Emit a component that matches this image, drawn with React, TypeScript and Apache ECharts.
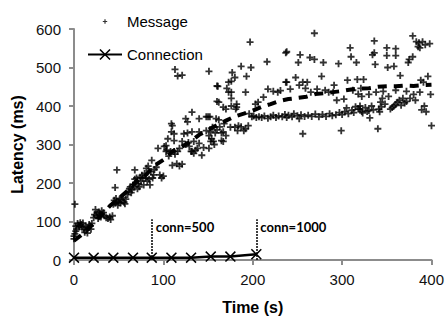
import React, { useEffect, useRef } from "react";
import * as echarts from "echarts";

// Message latency samples [time (s), latency (ms)]
const messagePoints: [number, number][] = [
  [0, 55], [0, 62], [1, 145], [1, 68], [2, 75], [2, 88], [3, 80], [4, 95], [5, 90], [6, 86],
  [7, 97], [8, 92], [9, 85], [10, 96], [11, 80], [12, 72], [13, 88], [14, 78], [15, 70], [16, 84],
  [17, 92], [18, 88], [19, 80], [20, 95], [22, 110], [23, 118], [24, 131], [25, 115], [26, 122], [27, 108],
  [28, 125], [29, 118], [30, 112], [31, 128], [33, 123], [34, 115], [36, 110], [38, 108], [40, 112], [41, 105],
  [43, 115], [44, 145], [45, 155], [46, 148], [46, 188], [47, 160], [48, 152], [48, 234], [49, 142], [50, 150],
  [51, 158], [52, 148], [53, 155], [55, 162], [56, 150], [57, 146], [58, 158], [60, 170], [61, 178], [62, 185],
  [63, 190], [64, 175], [65, 182], [66, 195], [67, 190], [68, 234], [68, 210], [69, 200], [70, 213], [71, 185],
  [72, 198], [73, 190], [74, 215], [75, 205], [76, 220], [77, 213], [78, 195], [79, 225], [80, 213], [81, 238],
  [82, 205], [83, 244], [84, 210], [85, 195], [86, 230], [87, 259], [88, 213], [89, 221], [90, 235], [92, 241],
  [94, 290], [96, 221], [98, 213], [100, 218], [101, 295], [103, 297], [103, 282], [104, 285], [105, 315], [106, 270],
  [108, 282], [109, 354], [109, 333], [110, 349], [110, 246], [112, 328], [112, 282], [112, 310], [113, 495], [113, 275],
  [115, 250], [116, 478], [116, 282], [118, 244], [118, 290], [121, 480], [121, 249], [121, 308], [123, 328], [125, 367],
  [125, 300], [127, 359], [127, 330], [128, 305], [129, 295], [131, 282], [132, 384], [132, 333], [132, 282], [134, 308],
  [134, 277], [136, 285], [138, 290], [140, 303], [140, 367], [140, 333], [143, 272], [145, 292], [148, 372], [148, 336],
  [150, 372], [151, 490], [151, 323], [151, 290], [152, 372], [153, 333], [153, 308], [154, 315], [155, 345], [156, 308],
  [157, 300], [158, 330], [159, 367], [160, 452], [160, 412], [160, 338], [161, 451], [162, 364], [162, 410], [163, 346],
  [165, 310], [165, 330], [167, 308], [167, 397], [167, 333], [168, 354], [170, 323], [170, 392], [171, 446], [173, 436],
  [173, 462], [175, 345], [176, 464], [176, 436], [176, 420], [176, 400], [177, 487], [180, 474], [180, 345], [181, 392],
  [182, 405], [182, 397], [183, 336], [184, 349], [187, 346], [187, 503], [190, 336], [192, 341], [192, 436], [193, 477],
  [195, 349], [196, 380], [197, 566], [198, 500], [199, 372], [201, 374], [203, 405], [204, 370], [206, 410], [207, 372],
  [210, 370], [212, 423], [213, 374], [216, 515], [217, 444], [217, 368], [220, 372], [223, 438], [223, 376], [226, 370],
  [228, 436], [229, 374], [231, 440], [233, 372], [236, 378], [237, 538], [237, 462], [238, 541], [238, 462], [238, 370],
  [240, 376], [242, 444], [244, 372], [246, 380], [248, 474], [250, 375], [251, 513], [252, 454], [252, 367], [253, 533],
  [254, 377], [256, 462], [256, 328], [258, 373], [259, 446], [261, 462], [262, 376], [264, 526], [265, 436], [266, 373],
  [269, 521], [269, 589], [270, 379], [272, 444], [274, 372], [277, 477], [278, 378], [279, 513], [281, 441], [282, 373],
  [285, 436], [286, 380], [289, 375], [290, 436], [291, 454], [293, 377], [294, 415], [296, 510], [297, 383], [299, 336],
  [300, 378], [302, 418], [303, 385], [305, 395], [306, 467], [307, 380], [309, 551], [310, 528], [311, 389], [312, 441],
  [313, 383], [315, 398], [316, 513], [317, 469], [318, 431], [318, 392], [320, 400], [320, 392], [321, 446], [322, 386],
  [322, 425], [323, 382], [324, 469], [326, 396], [328, 386], [330, 388], [330, 430], [331, 369], [333, 400], [334, 533],
  [335, 390], [336, 538], [336, 569], [337, 508], [338, 436], [339, 608], [340, 341], [341, 392], [342, 385], [343, 410],
  [344, 398], [345, 420], [346, 438], [348, 405], [349, 605], [350, 551], [350, 531], [351, 500], [352, 425], [354, 392],
  [356, 396], [358, 503], [358, 400], [360, 549], [360, 531], [360, 404], [360, 441], [362, 410], [364, 415], [365, 479],
  [366, 402], [368, 420], [370, 408], [372, 412], [372, 438], [374, 513], [375, 521], [376, 420], [379, 582], [379, 528],
  [380, 430], [382, 415], [383, 567], [385, 554], [386, 564], [387, 551], [387, 436], [388, 467], [389, 390], [390, 567],
  [391, 462], [392, 400], [393, 559], [394, 385], [396, 477], [398, 562], [399, 608], [399, 430], [400, 349],
];

// Dashed trend line
const trendTime = [0, 10, 20, 30, 40, 50, 60, 70, 80, 90, 100, 110, 120, 130, 140, 150, 160, 170, 180, 190, 200,
  210, 220, 230, 240, 250, 260, 270, 280, 290, 300, 310, 320, 330, 340, 350, 360, 370, 380, 390, 400];
const trendLatency = [50, 68, 90, 115, 140, 160, 180, 205, 220, 245, 260, 282, 293, 307, 325, 338, 350, 362, 373, 380, 388,
  398, 405, 413, 418, 421, 424, 431, 433, 436, 439, 443, 445, 446, 450, 451, 451, 453, 452, 454, 455];

// Connection setup latency
const connTime = [0, 22, 44, 66, 87, 109, 131, 153, 175, 204];
const connLatency = [6, 6, 6, 6, 6, 6, 6, 9, 9, 15];

// Annotations
const annotTime = [87, 204];
const annotLabels = ["conn=500", "conn=1000"];
const annotTop = 106;
const annotLabelY = 87;

const xTicks = { min: 0, max: 400, interval: 100 };
const yTicks = { min: 0, max: 600, interval: 100 };

const PLUS = "path://M37,0H63V37H100V63H63V100H37V63H0V37H37Z";
const CROSS = "path://M0,10L10,0L50,40L90,0L100,10L60,50L100,90L90,100L50,60L10,100L0,90L40,50Z";
// small plus centred in a larger invisible box, for the legend
const PLUS_SMALL =
  "path://M0,0h0.2v0.2h-0.2Z M140,140h-0.2v-0.2h0.2Z M64,48H76V64H92V76H76V92H64V76H48V64H64Z";

export default function App() {
  const ref = useRef<HTMLDivElement>(null);
  useEffect(() => {
    if (!ref.current) return;
    const chart = echarts.init(ref.current, null, { renderer: "svg" });
    const axisColor = "#8c8c8c";
    const font = "'Liberation Sans', Arial, sans-serif";
    chart.setOption({
      animation: false,
      grid: { left: 74, right: 10, top: 29, bottom: 57 },
      legend: {
        orient: "vertical",
        left: 82,
        top: 9,
        itemWidth: 34,
        itemHeight: 14,
        itemGap: 18,
        textStyle: { fontSize: 15, fontFamily: font, color: "#000" },
        data: [{ name: "Message", icon: PLUS_SMALL }, "Connection"],
      },
      xAxis: {
        type: "value",
        ...xTicks,
        name: "Time (s)",
        nameLocation: "middle",
        nameGap: 39,
        nameTextStyle: { fontSize: 16, fontWeight: "bold", fontFamily: font, color: "#000" },
        axisLine: { lineStyle: { color: axisColor, width: 2 } },
        axisTick: { show: true, length: 5, lineStyle: { color: axisColor, width: 2 } },
        axisLabel: { fontSize: 15, fontFamily: font, color: "#111", margin: 12 },
        splitLine: { show: false },
      },
      yAxis: {
        type: "value",
        ...yTicks,
        name: "Latency (ms)",
        nameLocation: "middle",
        nameGap: 47,
        nameTextStyle: { fontSize: 16, fontWeight: "bold", fontFamily: font, color: "#000" },
        axisLine: { show: true, lineStyle: { color: axisColor, width: 2 } },
        axisTick: { show: true, length: 5, lineStyle: { color: axisColor, width: 2 } },
        axisLabel: { fontSize: 15, fontFamily: font, color: "#111", margin: 13 },
        splitLine: { show: false },
      },
      series: [
        {
          name: "Message",
          type: "scatter",
          symbol: PLUS,
          symbolSize: 7,
          itemStyle: { color: "#000" },
          data: messagePoints,
          z: 3,
        },
        {
          name: "Trend",
          type: "line",
          showSymbol: false,
          symbol: "none",
          lineStyle: { color: "#000", width: 4, type: [9, 7] },
          data: trendTime.map((t, i) => [t, trendLatency[i]]),
          z: 4,
        },
        {
          name: "Connection",
          type: "line",
          symbol: CROSS,
          symbolSize: 11,
          itemStyle: { color: "#000" },
          lineStyle: { color: "#000", width: 2.5 },
          data: connTime.map((t, i) => [t, connLatency[i]]),
          z: 5,
          markLine: {
            silent: true,
            symbol: ["none", "none"],
            label: { show: false },
            lineStyle: { color: "#000", width: 1.5, type: [2, 1] },
            data: annotTime.map((t) => [{ coord: [t, 0] }, { coord: [t, annotTop] }]),
          },
          markPoint: {
            silent: true,
            symbol: "circle",
            symbolSize: 0,
            data: annotTime.map((t, i) => ({
              coord: [t, annotLabelY],
              label: {
                show: true,
                position: "right",
                distance: 4,
                formatter: annotLabels[i],
                fontSize: 13,
                fontWeight: "bold",
                fontFamily: "Lato, 'Liberation Sans', sans-serif",
                color: "#000",
              },
            })),
          },
        },
      ],
    });
    return () => chart.dispose();
  }, []);
  return <div ref={ref} style={{ width: 447, height: 320, position: "absolute", left: 0, top: 0 }} />;
}
